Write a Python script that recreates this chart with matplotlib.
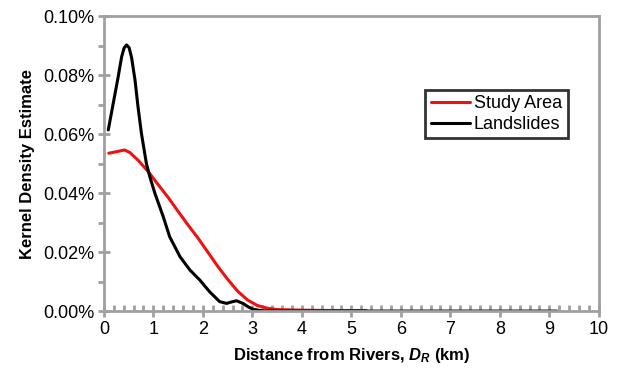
import matplotlib
matplotlib.use("Agg")
import matplotlib.pyplot as plt
from matplotlib.ticker import MultipleLocator, FuncFormatter

plt.rcParams['font.family'] = ['Liberation Sans', 'DejaVu Sans']
plt.rcParams['mathtext.fontset'] = 'custom'
plt.rcParams['mathtext.it'] = 'Liberation Sans:italic:bold'
plt.rcParams['mathtext.rm'] = 'Liberation Sans:bold'

# kernel density estimates (%)
study_x = [0.1, 0.25, 0.42, 0.53, 0.7, 0.9, 1.1, 1.3, 1.5, 1.7, 1.9, 2.1, 2.3, 2.5, 2.7,
           2.9, 3.1, 3.3, 3.5, 4.0, 4.5, 5.3]
study_y = [0.0535, 0.0540, 0.0546, 0.0537, 0.0510, 0.0472, 0.0428, 0.0385, 0.0338, 0.0292,
           0.0248, 0.0200, 0.0152, 0.0108, 0.0068, 0.0038, 0.0019, 0.0010, 0.0005, 0.0003,
           0.0002, 0.0002]

slide_x = [0.09, 0.19, 0.29, 0.36, 0.41, 0.46, 0.51, 0.56, 0.63, 0.69, 0.76, 0.86, 0.93,
           1.03, 1.2, 1.33, 1.54, 1.74, 1.94, 2.14, 2.34, 2.48, 2.58, 2.68, 2.81, 2.92, 3.02,
           3.2, 3.5, 4.0, 5.0, 6.0, 7.0, 8.0, 9.15]
slide_y = [0.0614, 0.0704, 0.0794, 0.0862, 0.0892, 0.0902, 0.0893, 0.0860, 0.0783, 0.0693,
           0.0602, 0.0500, 0.0455, 0.0400, 0.0320, 0.0252, 0.0184, 0.0139, 0.0105, 0.0065,
           0.0032, 0.0026, 0.0031, 0.0035, 0.0026, 0.0014, 0.0006, 0.0001, 0.0, 0.0, 0.0,
           0.0, 0.0, 0.0, 0.0]

fig = plt.figure(figsize=(6.18, 3.73), dpi=100)
ax = fig.add_axes([0.168, 0.166, 0.801, 0.791])

ax.plot(study_x, study_y, color='#ee1111', lw=2.2, label='Study Area',
        solid_joinstyle='round', solid_capstyle='round')
ax.plot(slide_x, slide_y, color='black', lw=2.2, label='Landslides',
        solid_joinstyle='round', solid_capstyle='round')

ax.set_xlim(0, 10)
ax.set_ylim(0, 0.1)
ax.xaxis.set_major_locator(MultipleLocator(1))
ax.xaxis.set_minor_locator(MultipleLocator(0.2))
ax.yaxis.set_major_locator(MultipleLocator(0.02))
ax.yaxis.set_minor_locator(MultipleLocator(0.01))
ax.yaxis.set_major_formatter(FuncFormatter(lambda v, p: f'{v:.2f}%'))

gray = '#a0a0a0'
for s in ax.spines.values():
    s.set_color(gray)
    s.set_linewidth(2)
ax.tick_params(which='major', direction='inout', length=8, width=2, color=gray,
               labelsize=13, pad=3)
ax.tick_params(axis='x', which='minor', direction='in', length=4, width=2, color=gray)
ax.tick_params(axis='y', which='minor', direction='out', length=4, width=2, color=gray)

ax.set_xlabel('Distance from Rivers, $D_R$ (km)', fontsize=12, fontweight='bold', labelpad=6)
ax.set_ylabel('Kernel Density Estimate', fontsize=12, fontweight='bold', labelpad=6)

leg = ax.legend(loc='upper right', bbox_to_anchor=(0.955, 0.78), fontsize=13,
                frameon=True, fancybox=False, handlelength=2.2, handletextpad=0.2,
                borderpad=0.3, labelspacing=0.2)
leg.get_frame().set_edgecolor('black')
leg.get_frame().set_linewidth(2)

fig.savefig('out.png', dpi=100)
